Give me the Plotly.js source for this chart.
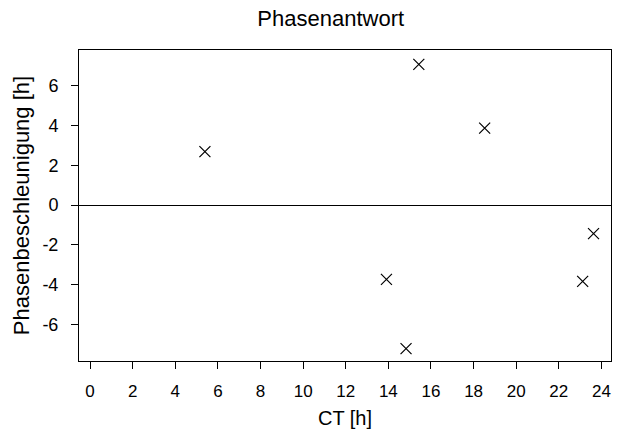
<!DOCTYPE html>
<html>
<head>
<meta charset="utf-8">
<script src="https://cdn.plot.ly/plotly-3.0.1.min.js"></script>
<style>html,body{margin:0;padding:0;background:#fff;}#chart{width:617px;height:439px;}</style>
</head>
<body>
<div id="chart"></div>
<script>
const ct = [5.39, 15.43, 18.52, 13.91, 14.83, 23.12, 23.63];
const phaseShift = [2.68, 7.07, 3.86, -3.74, -7.22, -3.84, -1.44];
const xTicks = [0, 2, 4, 6, 8, 10, 12, 14, 16, 18, 20, 22, 24];
const yTicks = [-6, -4, -2, 0, 2, 4, 6];

const font = "Liberation Sans, Arial, sans-serif";

const trace = {
  x: ct, y: phaseShift, type: 'scatter', mode: 'markers',
  marker: {symbol: 'x-thin-open', size: 11, color: '#000', line: {color: '#000', width: 1.2}},
  hoverinfo: 'none', showlegend: false
};

const layout = {
  width: 617, height: 439,
  margin: {l: 79, r: 6, t: 50, b: 78},
  paper_bgcolor: '#fff', plot_bgcolor: '#fff',
  font: {family: font, color: '#000', size: 17},
  title: {text: 'Phasenantwort', font: {family: font, size: 22, color: '#000'}, xref: 'container', x: 0.536, xanchor: 'center', yref: 'container', y: 0.958, yanchor: 'middle'},
  xaxis: {
    range: [-0.52, 24.45], tickvals: xTicks, ticktext: xTicks.map(String),
    ticks: 'outside', ticklen: 7, tickwidth: 1, tickcolor: '#000',
    showline: true, linecolor: '#000', linewidth: 1, mirror: true,
    showgrid: false, zeroline: false, ticklabelstandoff: 8,
    tickfont: {family: font, size: 17, color: '#000'},
    title: {text: 'CT [h]', font: {family: font, size: 20, color: '#000'}, standoff: 10}
  },
  yaxis: {
    range: [-7.84, 7.79], tickvals: yTicks, ticktext: yTicks.map(String),
    ticks: 'outside', ticklen: 7, tickwidth: 1, tickcolor: '#000',
    showline: true, linecolor: '#000', linewidth: 1, mirror: true,
    showgrid: false, zeroline: true, zerolinecolor: '#000', zerolinewidth: 1,
    ticklabelstandoff: 9,
    tickfont: {family: font, size: 18, color: '#000'},
    title: {text: 'Phasenbeschleunigung [h]', font: {family: font, size: 22, color: '#000'}, standoff: 6}
  }
};

Plotly.newPlot('chart', [trace], layout, {displayModeBar: false, staticPlot: true});
</script>
</body>
</html>
